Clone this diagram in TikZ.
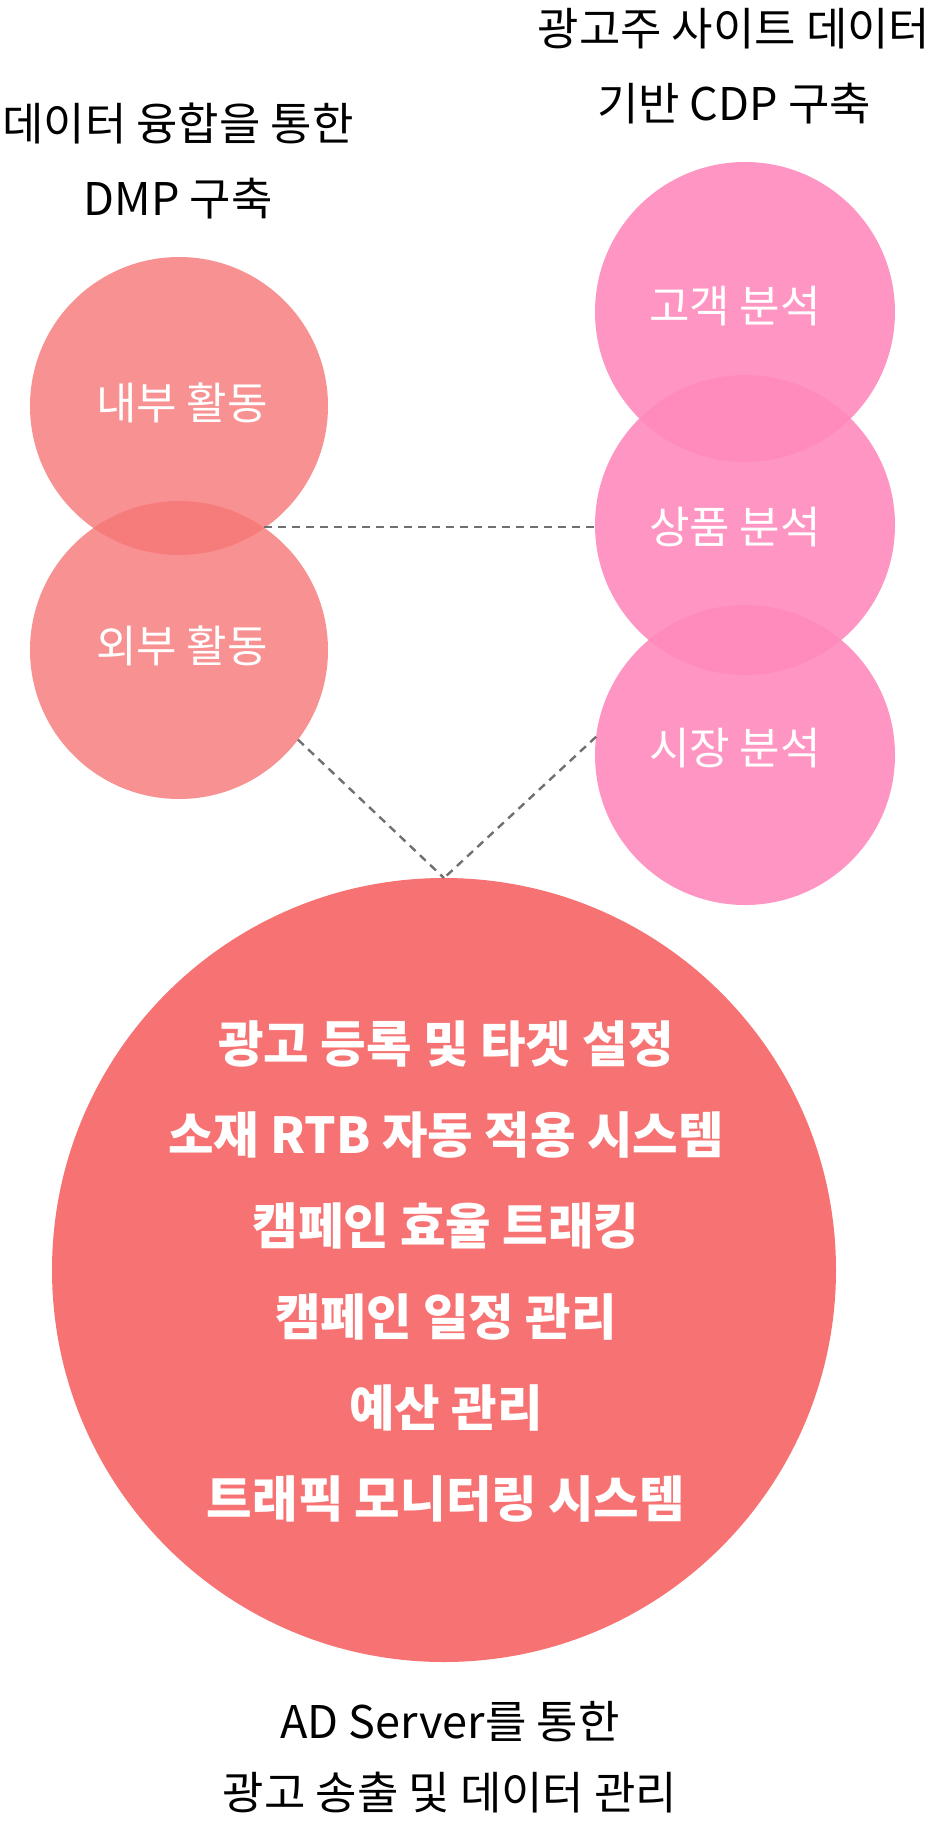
\documentclass[tikz,border=0pt]{standalone}
\usepackage{fontspec}
\newfontfamily\kr{Noto Sans CJK KR}
\definecolor{adred}{HTML}{F77373}
\definecolor{dmpred}{HTML}{F67676}
\definecolor{cdppink}{HTML}{FF8ABC}
\definecolor{dashgray}{HTML}{707070}
\begin{document}
\begin{tikzpicture}[x=1pt,y=-1pt,
  dmpcircle/.style={circle, draw=none, fill=dmpred, fill opacity=0.8, minimum size=298pt, inner sep=0pt, outer sep=0pt},
  cdpcircle/.style={circle, draw=none, fill=cdppink, fill opacity=0.9, minimum size=300pt, inner sep=0pt, outer sep=0pt},
  adcircle/.style={circle, draw=none, fill=adred, minimum size=784pt, inner sep=0pt, outer sep=0pt},
  circlelabel/.style={text=white, inner sep=0pt, font=\kr\fontsize{44}{52}\selectfont},
  innertext/.style={text=white, inner sep=0pt, align=center, font=\kr\bfseries\fontsize{49.5}{91}\selectfont},
  titletext/.style={text=black, inner sep=0pt, align=center},
  dashline/.style={draw=dashgray, line width=2.4pt, dash pattern=on 8pt off 6pt}
]
\useasboundingbox (0,0) rectangle (936,1821);

% DMP circles
\node[dmpcircle] (naebu) at (179,406) {};
\node[dmpcircle] (oebu) at (179,650) {};
% CDP circles
\node[cdpcircle] (gogaek) at (745,312) {};
\node[cdpcircle] (sangpum) at (745,525) {};
\node[cdpcircle] (sijang) at (745,755) {};
% AD server circle
\node[adcircle] (ad) at (444,1270) {};

% circle labels
\node[circlelabel] (lnaebu) at (182,403) {내부 활동};
\node[circlelabel] (loebu) at (182,646) {외부 활동};
\node[circlelabel] (lgogaek) at (735,306) {고객 분석};
\node[circlelabel] (lsangpum) at (735,527) {상품 분석};
\node[circlelabel] (lsijang) at (735,748) {시장 분석};

\node[innertext] (adlist) at (446,1271) {광고 등록 및 타겟 설정\\소재 RTB 자동 적용 시스템\\캠페인 효율 트래킹\\캠페인 일정 관리\\예산 관리\\트래픽 모니터링 시스템};

% titles
\node[titletext, font=\kr\fontsize{45}{74.5}\selectfont] (tdmp) at (178,161) {데이터 융합을 통한\\DMP 구축};
\node[titletext, font=\kr\fontsize{45}{75}\selectfont] (tcdp) at (734,66) {광고주 사이트 데이터\\기반 CDP 구축};
\node[titletext, font=\kr\fontsize{45}{71}\selectfont] (tad) at (450,1757) {AD Server를 통한\\광고 송출 및 데이터 관리};

% connectors
\coordinate (ix) at (264,527);
\draw[dashline] (ix) -- (ix -| sangpum.west);
\draw[dashline] (oebu.-37) -- (ad.north);
\draw[dashline] (sijang.173) -- (ad.north);
\end{tikzpicture}
\end{document}
